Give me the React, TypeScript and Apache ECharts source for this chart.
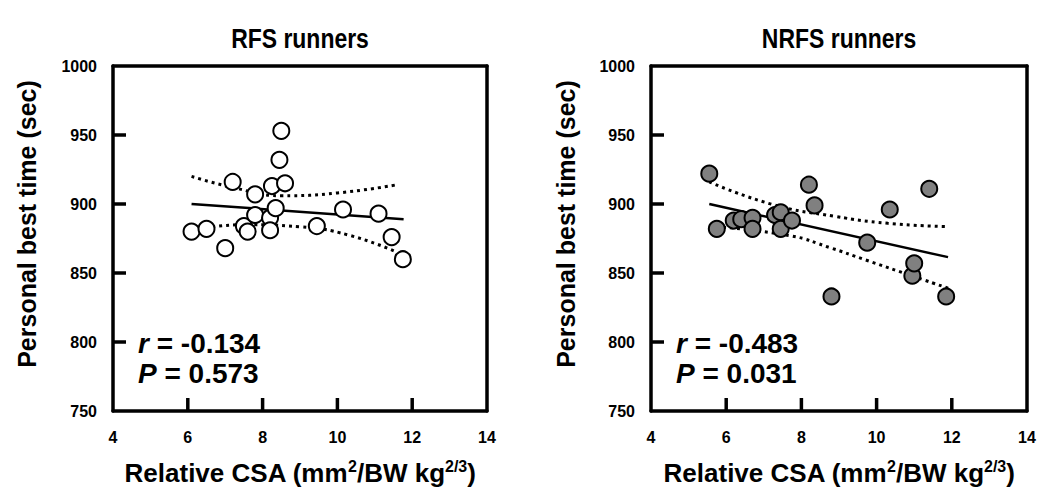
import React, { useEffect, useRef } from "react";
import * as echarts from "echarts";

// ---- Data ----
const rfsX = [6.1, 6.5, 7.0, 7.2, 7.5, 7.6, 7.8, 7.8, 8.2, 8.2, 8.25, 8.35, 8.45, 8.5, 8.6, 9.45, 10.15, 11.1, 11.45, 11.75];
const rfsY = [880, 882, 868, 916, 884, 880, 907, 892, 890, 881, 913, 897, 932, 953, 915, 884, 896, 893, 876, 860];

const nrfsX = [5.55, 5.75, 6.2, 6.4, 6.7, 6.7, 7.3, 7.45, 7.45, 7.75, 8.2, 8.35, 8.8, 9.75, 10.35, 10.95, 11.0, 11.4, 11.85];
const nrfsY = [922, 882, 888, 889, 890, 882, 892, 894, 882, 888, 914, 899, 833, 872, 896, 848, 857, 911, 833];

const rfsFitX = [6.1, 11.77];
const rfsFitY = [900, 889];
const rfsUpperX = [6.1, 7.2, 8.5, 10.0, 11.6];
const rfsUpperY = [920, 912, 906, 908, 914];
const rfsLowerX = [6.1, 7.5, 9.0, 10.3, 11.6];
const rfsLowerY = [881, 885, 883.5, 877.5, 865];

const nrfsFitX = [5.55, 11.9];
const nrfsFitY = [900, 861.5];
const nrfsUpperX = [5.55, 7.25, 8.9, 10.3, 11.9];
const nrfsUpperY = [916, 899.5, 891, 886, 883.6];
const nrfsLowerX = [5.55, 7.7, 8.8, 9.65, 11.9];
const nrfsLowerY = [884, 877, 868, 860, 839];

const titles = ["RFS runners", "NRFS runners"];
const rValues = ["-0.134", "-0.483"];
const pValues = ["0.573", "0.031"];
const yTitle = "Personal best time (sec)";
const xTitle = "Relative CSA (mm{sup|2}/BW kg{sup|2/3})";

const xTicks = { min: 4, max: 14, interval: 2 };
const yTicks = { min: 750, max: 1000, interval: 50 };
const xInnerTicks = [6, 8, 10, 12];
const yInnerTicks = [800, 850, 900, 950];

const zip = (xs: number[], ys: number[]) => xs.map((x, i) => [x, ys[i]]);

const FONT = "'Liberation Sans', Arial, sans-serif";
const LINE_W = 3.5;
const TICK_LEN = 13;
const TICK_W = 3.5;

export default function App() {
  const ref = useRef<HTMLDivElement>(null);
  useEffect(() => {
    if (!ref.current) return;
    const chart = echarts.init(ref.current, null, { renderer: "svg" });

    const grids = [
      { left: 113, top: 66, width: 374, height: 345 },
      { left: 651, top: 66, width: 376, height: 345 },
    ];

    const mkLine = () => ({ show: true, onZero: false, lineStyle: { color: "#000", width: LINE_W } });

    const bottomAxes = grids.map((_, i) => ({
      type: "value",
      gridIndex: i,
      position: "bottom",
      min: xTicks.min,
      max: xTicks.max,
      interval: xTicks.interval,
      splitLine: { show: false },
      axisLine: mkLine(),
      axisTick: { show: false },
      axisLabel: { color: "#000", fontSize: 16, fontWeight: "bold", fontFamily: FONT, margin: 18 },
      name: xTitle,
      nameLocation: "middle",
      nameGap: 47,
      nameTextStyle: {
        color: "#000",
        fontSize: 26,
        fontWeight: "bold",
        fontFamily: FONT,
        rich: {
          sup: { fontSize: 16, fontWeight: "bold", fontFamily: FONT, color: "#000", padding: [0, 0, 13, 0] },
        },
      },
    }));
    const topAxes = grids.map((_, i) => ({
      type: "value",
      gridIndex: i,
      position: "top",
      min: xTicks.min,
      max: xTicks.max,
      interval: xTicks.interval,
      splitLine: { show: false },
      axisLine: mkLine(),
      axisTick: { show: false },
      axisLabel: { show: false },
    }));

    const leftAxes = grids.map((_, i) => ({
      type: "value",
      gridIndex: i,
      position: "left",
      min: yTicks.min,
      max: yTicks.max,
      interval: yTicks.interval,
      splitLine: { show: false },
      axisLine: mkLine(),
      axisTick: { show: false },
      axisLabel: {
        color: "#000",
        fontSize: 16,
        fontWeight: "bold",
        fontFamily: FONT,
        margin: 16,
        formatter: (v: number) => String(v),
      },
    }));
    const rightAxes = grids.map((_, i) => ({
      type: "value",
      gridIndex: i,
      position: "right",
      min: yTicks.min,
      max: yTicks.max,
      interval: yTicks.interval,
      splitLine: { show: false },
      axisLine: mkLine(),
      axisTick: { show: false },
      axisLabel: { show: false },
    }));

    const lineSeries = (xs: number[], ys: number[], idx: number, dotted: boolean) => ({
      type: "line",
      xAxisIndex: idx,
      yAxisIndex: idx,
      data: zip(xs, ys),
      smooth: dotted ? 0.5 : false,
      showSymbol: false,
      symbol: "none",
      silent: true,
      z: 2,
      lineStyle: dotted
        ? { color: "#000", width: 3, type: [3, 4] }
        : { color: "#000", width: 2.5, type: "solid" },
    });

    const scatter = (xs: number[], ys: number[], idx: number, fill: string) => ({
      type: "scatter",
      xAxisIndex: idx,
      yAxisIndex: idx,
      data: zip(xs, ys),
      symbol: "circle",
      symbolSize: 16,
      z: 5,
      itemStyle: { color: fill, borderColor: "#000", borderWidth: 2, opacity: 1 },
    });

    // inward tick marks: small rectangle symbols placed on the axes through the chart's scales
    const xTickSeries = (idx: number) => ({
      type: "scatter",
      xAxisIndex: idx,
      yAxisIndex: idx,
      clip: false,
      silent: true,
      z: 6,
      symbol: "rect",
      symbolSize: [TICK_W, TICK_LEN],
      symbolOffset: [0, -TICK_LEN / 2],
      itemStyle: { color: "#000", opacity: 1 },
      data: xInnerTicks.map((v) => [v, yTicks.min]),
    });
    const yTickSeries = (idx: number) => ({
      type: "scatter",
      xAxisIndex: idx,
      yAxisIndex: idx,
      clip: false,
      silent: true,
      z: 6,
      symbol: "rect",
      symbolSize: [TICK_LEN, TICK_W],
      symbolOffset: [TICK_LEN / 2, 0],
      itemStyle: { color: "#000", opacity: 1 },
      data: yInnerTicks.map((v) => [xTicks.min, v]),
    });

    const centers = grids.map((g) => g.left + g.width / 2);
    const yTitleX = [27, 566];
    const graphics: any[] = [];
    titles.forEach((t, i) => {
      graphics.push({
        type: "text",
        x: centers[i],
        y: 38,
        scaleX: 0.82,
        style: {
          text: t,
          fill: "#000",
          font: `bold 28px ${FONT}`,
          align: "center",
          verticalAlign: "middle",
        },
      });
      graphics.push({
        type: "text",
        x: yTitleX[i],
        y: 224,
        rotation: Math.PI / 2,
        style: {
          text: yTitle,
          fill: "#000",
          font: `bold 25px ${FONT}`,
          align: "center",
          verticalAlign: "middle",
        },
      });
      const rich = { i: { fontStyle: "italic", fontWeight: "bold", fontSize: 28, fontFamily: FONT, fill: "#000" } };
      graphics.push({
        type: "text",
        x: grids[i].left + 25,
        y: 343,
        style: {
          text: `{i|r} = ${rValues[i]}`,
          fill: "#000",
          font: `bold 28px ${FONT}`,
          verticalAlign: "middle",
          rich,
        },
      });
      graphics.push({
        type: "text",
        x: grids[i].left + 25,
        y: 373,
        style: {
          text: `{i|P} = ${pValues[i]}`,
          fill: "#000",
          font: `bold 28px ${FONT}`,
          verticalAlign: "middle",
          rich,
        },
      });
    });

    chart.setOption({
      animation: false,
      backgroundColor: "#fff",
      grid: grids,
      xAxis: [...bottomAxes, ...topAxes],
      yAxis: [...leftAxes, ...rightAxes],
      series: [
        lineSeries(rfsFitX, rfsFitY, 0, false),
        lineSeries(rfsUpperX, rfsUpperY, 0, true),
        lineSeries(rfsLowerX, rfsLowerY, 0, true),
        scatter(rfsX, rfsY, 0, "#ffffff"),
        xTickSeries(0),
        yTickSeries(0),
        lineSeries(nrfsFitX, nrfsFitY, 1, false),
        lineSeries(nrfsUpperX, nrfsUpperY, 1, true),
        lineSeries(nrfsLowerX, nrfsLowerY, 1, true),
        scatter(nrfsX, nrfsY, 1, "#808080"),
        xTickSeries(1),
        yTickSeries(1),
      ],
      graphic: graphics,
    });

    return () => chart.dispose();
  }, []);

  return (
    <div
      ref={ref}
      style={{ position: "absolute", left: 0, top: 0, width: 1046, height: 497, background: "#fff" }}
    />
  );
}
